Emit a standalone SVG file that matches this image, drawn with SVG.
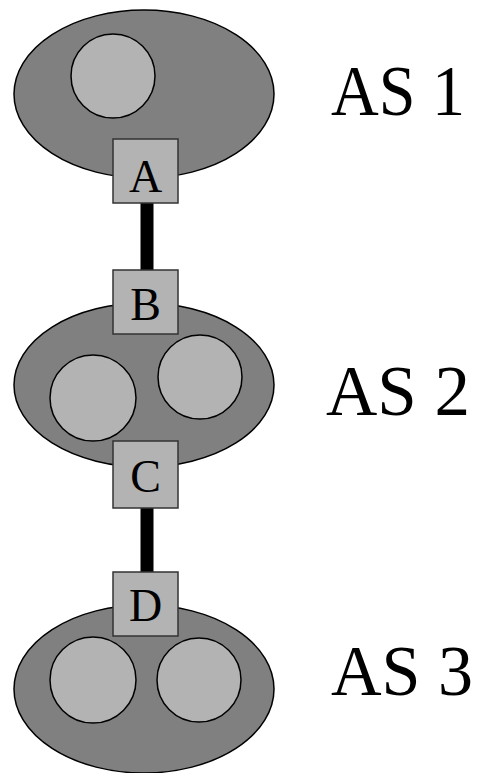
<svg xmlns="http://www.w3.org/2000/svg" width="478" height="773" viewBox="0 0 478 773">
  <style>
    .as { fill: #808080; stroke: #000; stroke-width: 1.5; }
    .host { fill: #b3b3b3; stroke: #000; stroke-width: 1.5; }
    .router { fill: #b3b3b3; stroke: #333; stroke-width: 1.5; }
    .rlabel { font-family: 'Liberation Serif', 'DejaVu Serif', serif; font-size: 46px; fill: #000; text-anchor: middle; }
    .aslabel { font-family: 'Liberation Serif', 'DejaVu Serif', serif; font-size: 72px; fill: #000; }
    .link { stroke: #000; stroke-width: 13; }
  </style>
  <rect width="478" height="773" fill="#fff"/>

  <!-- inter-AS links -->
  <g id="links">
    <line class="link" x1="147" y1="200" x2="147" y2="273"/>
    <line class="link" x1="147" y1="505" x2="147" y2="575"/>
  </g>

  <!-- AS 1 -->
  <g id="as1">
    <ellipse class="as" cx="144" cy="94" rx="130" ry="84"/>
    <circle class="host" cx="113" cy="76" r="42"/>
    <text class="aslabel" x="331" y="115" textLength="134" lengthAdjust="spacingAndGlyphs">AS 1</text>
  </g>
  <g id="routerA">
    <rect class="router" x="113" y="139" width="65" height="64"/>
    <text class="rlabel" x="145.5" y="192">A</text>
  </g>

  <!-- AS 2 -->
  <g id="as2">
    <ellipse class="as" cx="144" cy="385" rx="130" ry="82"/>
    <circle class="host" cx="93" cy="398" r="43"/>
    <circle class="host" cx="200" cy="377" r="42"/>
    <text class="aslabel" x="326" y="415" textLength="144" lengthAdjust="spacingAndGlyphs">AS 2</text>
  </g>
  <g id="routerB">
    <rect class="router" x="113" y="270" width="65" height="64"/>
    <text class="rlabel" x="145.5" y="320">B</text>
  </g>
  <g id="routerC">
    <rect class="router" x="113" y="441" width="65" height="67"/>
    <text class="rlabel" x="145.5" y="492">C</text>
  </g>

  <!-- AS 3 -->
  <g id="as3">
    <ellipse class="as" cx="144" cy="689" rx="130" ry="84"/>
    <circle class="host" cx="93" cy="680" r="43"/>
    <circle class="host" cx="199" cy="680" r="42"/>
    <text class="aslabel" x="331" y="695" textLength="142" lengthAdjust="spacingAndGlyphs">AS 3</text>
  </g>
  <g id="routerD">
    <rect class="router" x="113" y="572" width="65" height="64"/>
    <text class="rlabel" x="145.5" y="621">D</text>
  </g>
</svg>
